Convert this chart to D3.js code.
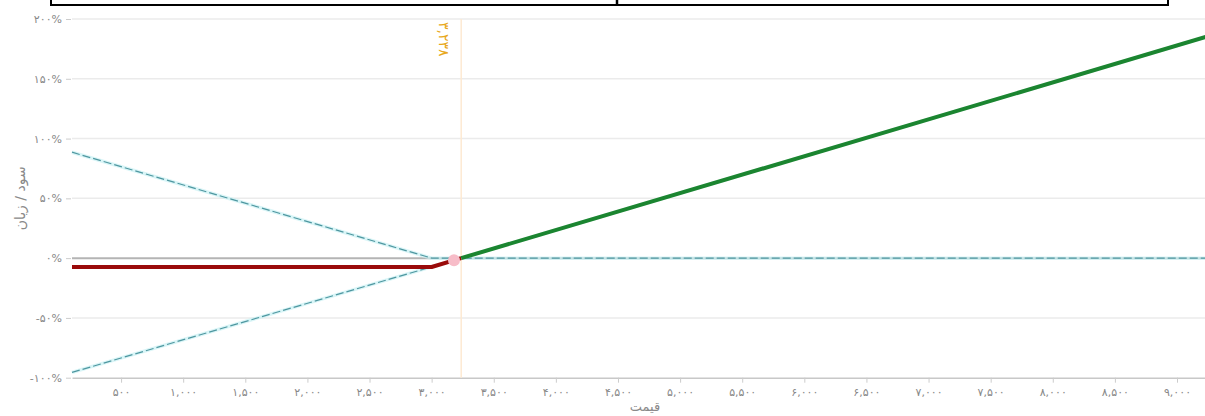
<!DOCTYPE html>
<html>
<head>
<meta charset="utf-8">
<script src="https://cdn.jsdelivr.net/npm/d3@7/dist/d3.min.js"></script>
<style>
  html, body { margin: 0; padding: 0; background: #fff; overflow: hidden; }
  svg { display: block; font-family: "DejaVu Sans", sans-serif; }
</style>
</head>
<body>
<svg id="chart"></svg>
<script>
// tick values
var xTicks = [500, 1000, 1500, 2000, 2500, 3000, 3500, 4000, 4500, 5000, 5500, 6000, 6500, 7000, 7500, 8000, 8500, 9000];
var yTicks = [-100, -50, 0, 50, 100, 150, 200];

// price range shown and break-even line
var priceRange = [105, 9330];
var breakEven = 3238;

// put leg (dashed, falling)
var putPrice = [105, 3000, 9330];
var putPct = [88.6, 0, 0];

// stock leg (dashed, rising)
var stockPrice = [105, 3238, 9330];
var stockPct = [-95.6, 0, 188];

// total payoff, loss part (red)
var lossPrice = [105, 3000, 3238];
var lossPct = [-7.4, -7.4, 0];

// total payoff, profit part (green)
var gainPrice = [3238, 9330];
var gainPct = [0, 188];

// current price marker
var markerPrice = [3180];
var markerPct = [-1.8];

var width = 1230, height = 416;
var plotLeft = 72, plotRight = 1218, plotTop = 19, plotBottom = 377.7;

var svg = d3.select('#chart')
    .attr('width', width)
    .attr('height', height);

var x = d3.scaleLinear().domain(priceRange).range([plotLeft, plotRight]);
var y = d3.scaleLinear().domain([-100, 200]).range([plotBottom, plotTop]);

var faDigits = '۰۱۲۳۴۵۶۷۸۹';
function fa(v) {
    return d3.format(',')(v).replace('−', '-').replace(/\d/g, function (d) { return faDigits[d]; });
}

function zip(px, py) {
    return px.map(function (p, i) { return [p, py[i]]; });
}

var line = d3.line()
    .x(function (d) { return x(d[0]); })
    .y(function (d) { return y(d[1]); });

// table border above the chart
svg.append('rect')
    .attr('x', 51).attr('y', -20)
    .attr('width', 1117).attr('height', 25)
    .attr('fill', 'none')
    .attr('stroke', '#000')
    .attr('stroke-width', 2);
svg.append('line')
    .attr('x1', 617).attr('x2', 617)
    .attr('y1', -20).attr('y2', 5)
    .attr('stroke', '#000')
    .attr('stroke-width', 2.5);

// grid
svg.selectAll('.grid')
    .data(yTicks.filter(function (d) { return d !== 0 && d !== -100; }))
    .enter()
    .append('line')
    .attr('class', 'grid')
    .attr('x1', plotLeft).attr('x2', plotRight)
    .attr('y1', function (d) { return y(d); })
    .attr('y2', function (d) { return y(d); })
    .attr('stroke', '#ebebeb')
    .attr('stroke-width', 1.5);

// zero line
svg.append('line')
    .attr('x1', plotLeft).attr('x2', plotRight)
    .attr('y1', y(0)).attr('y2', y(0))
    .attr('stroke', '#b4b4b4')
    .attr('stroke-width', 2);

// y axis
var yAxis = svg.append('g')
    .attr('transform', 'translate(' + (plotLeft - 1) + ',0)')
    .call(d3.axisLeft(y).tickValues(yTicks).tickSize(5).tickPadding(4)
        .tickFormat(function (d) { return fa(d) + '%'; }));
yAxis.select('.domain').remove();
yAxis.selectAll('.tick line').attr('stroke', '#cccccc');
yAxis.selectAll('.tick text')
    .attr('fill', '#888')
    .style('font-size', '11px')
    .style('font-family', '"DejaVu Sans", sans-serif');

// x axis
var xAxis = svg.append('g')
    .attr('transform', 'translate(0,' + plotBottom + ')')
    .call(d3.axisBottom(x).tickValues(xTicks).tickSize(5).tickSizeOuter(0).tickPadding(6)
        .tickFormat(fa));
xAxis.select('.domain').attr('stroke', '#c8c8c8').attr('stroke-width', 1.5);
xAxis.selectAll('.tick line').attr('stroke', '#cccccc');
xAxis.selectAll('.tick text')
    .attr('fill', '#888')
    .style('font-size', '11px')
    .style('font-family', '"DejaVu Sans", sans-serif');

// axis titles
svg.append('text')
    .attr('transform', 'translate(25,' + ((plotTop + plotBottom) / 2) + ') rotate(-90)')
    .attr('text-anchor', 'middle')
    .attr('fill', '#8a8a8a')
    .style('font-size', '14px')
    .text('سود / زیان');

svg.append('text')
    .attr('x', (plotLeft + plotRight) / 2)
    .attr('y', 411)
    .attr('text-anchor', 'middle')
    .attr('fill', '#8a8a8a')
    .style('font-size', '13px')
    .text('قیمت');

// break-even plot line
svg.append('line')
    .attr('x1', x(breakEven)).attr('x2', x(breakEven))
    .attr('y1', plotTop).attr('y2', plotBottom)
    .attr('stroke', '#fde9d2')
    .attr('stroke-width', 1.5);

svg.append('text')
    .attr('transform', 'translate(' + (x(breakEven) - 22) + ',' + (plotTop + 3) + ') rotate(90)')
    .attr('text-anchor', 'start')
    .attr('fill', '#e8a81c')
    .style('font-size', '14px')
    .text(fa(breakEven));

// dashed legs
[zip(putPrice, putPct), zip(stockPrice, stockPct)].forEach(function (pts) {
    svg.append('path')
        .datum(pts)
        .attr('d', line)
        .attr('fill', 'none')
        .attr('stroke', '#c9f1f3')
        .attr('stroke-width', 3.5)
        .attr('stroke-opacity', 0.7);
    svg.append('path')
        .datum(pts)
        .attr('d', line)
        .attr('fill', 'none')
        .attr('stroke', '#4f97a0')
        .attr('stroke-width', 1.2)
        .attr('stroke-dasharray', '8,3');
});

// total payoff
svg.append('path')
    .datum(zip(lossPrice, lossPct))
    .attr('d', line)
    .attr('fill', 'none')
    .attr('stroke', '#9a0a0a')
    .attr('stroke-width', 4)
    .attr('stroke-linejoin', 'round');

svg.append('path')
    .datum(zip(gainPrice, gainPct))
    .attr('d', line)
    .attr('fill', 'none')
    .attr('stroke', '#1b8530')
    .attr('stroke-width', 4)
    .attr('stroke-linejoin', 'round');

// marker
svg.selectAll('.marker')
    .data(zip(markerPrice, markerPct))
    .enter()
    .append('circle')
    .attr('class', 'marker')
    .attr('cx', function (d) { return x(d[0]); })
    .attr('cy', function (d) { return y(d[1]); })
    .attr('r', 6)
    .attr('fill', '#f7bcc8');
</script>
</body>
</html>
